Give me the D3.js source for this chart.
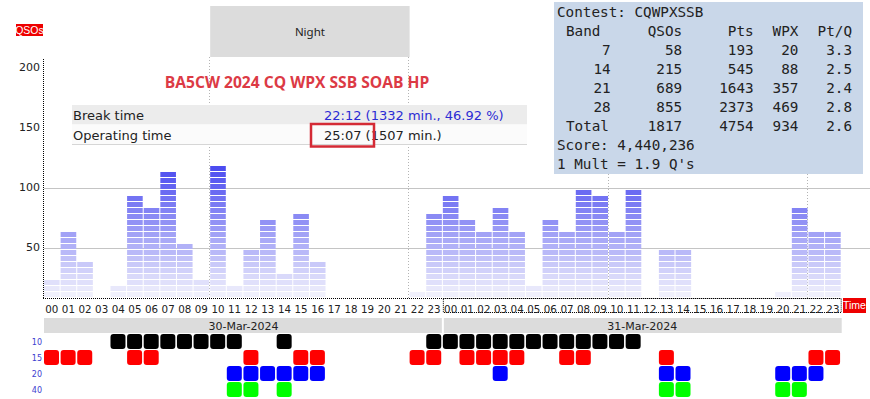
<!DOCTYPE html>
<html>
<head>
<meta charset="utf-8">
<script src="https://cdn.jsdelivr.net/npm/d3@7"></script>
<style>
body{margin:0;background:#fff}
svg{display:block}
</style>
</head>
<body>
<div id="chart"></div>
<script>
const hourLabels = ['00','01','02','03','04','05','06','07','08','09','10','11','12','13','14','15','16','17','18','19','20','21','22','23'];
const days = ['30-Mar-2024','31-Mar-2024'];
// QSOs per hour
const qsoDay1 = [22,62,37,0,17,92,82,112,52,22,117,17,47,72,27,77,37,0,0,0,0,0,12,77];
const qsoDay2 = [92,72,62,82,62,17,72,62,97,92,62,97,0,47,47,0,0,0,0,0,12,82,62,62];
const yTicks = [50,100,150,200];
const gridTicks = [50,100];
const night = [10,22];

// band activity, hours per day
const bandNames = ['10','15','20','40'];
const bandColors = ['#000000','#ff0000','#0000ff','#00ff00'];
const band10 = [[4,5,6,7,8,9,10,11,14,23],[0,1,2,3,4,5,6,7,8,9,10,11]];
const band15 = [[0,1,2,5,6,12,15,16,22,23],[1,2,3,4,7,8,13,22,23]];
const band20 = [[11,12,13,14,15,16],[3,13,14,20,21,22]];
const band40 = [[11,12,14],[13,14,20,21]];

// stats box
const statHeader = ['Band','QSOs','Pts','WPX','Pt/Q'];
const statBands = ['7','14','21','28'];
const statQsos = [58,215,689,855];
const statPts = [193,545,1643,2373];
const statWpx = [20,88,357,469];
const statPtq = ['3.3','2.5','2.4','2.8'];
const statTotal = ['Total',1817,4754,934,'2.6'];

const title = 'BA5CW 2024 CQ WPX SSB SOAB HP';
const breakRows = [['Break time','22:12 (1332 min., 46.92 %)'],['Operating time','25:07 (1507 min.)']];

const width = 870, height = 399;
const yMin = 7.5, step = 5;

const slots = days.flatMap((d,k) => hourLabels.map((h,i) => ({idx:k*24+i, label:h, day:k,
    qso:(k===0 ? qsoDay1 : qsoDay2)[i]})));

const xscale = d3.scaleBand()
.domain(slots.map(d => d.idx))
.range([44,840.7])
.paddingInner(0.06)
.paddingOuter(0);

const step24 = xscale.step();
const xpos = i => 44 + i*step24;

const yscale = d3.scaleLinear()
.domain([yMin,200])
.range([298,67]);

const color = d3.scaleLinear()
.domain([0,22])
.range(['#f0f0fc','#4444ef'])
.interpolate(d3.interpolateRgb);

const svg = d3.select('#chart')
.append('svg')
.attr('width',width)
.attr('height',height)
.style('font-family','DejaVu Sans');

// night
const nights = days.map((d,k) => ({x0:xpos(k*24+night[0]), x1:xpos(k*24+night[1])}));
svg.selectAll('.nightbox')
.data(nights)
.enter()
.append('rect')
.attr('x',d => d.x0)
.attr('y',6)
.attr('width',d => d.x1-d.x0)
.attr('height',51)
.attr('fill','#dcdcdc');

svg.selectAll('.nighttext')
.data(nights)
.enter()
.append('text')
.attr('x',d => (d.x0+d.x1)/2)
.attr('y',36)
.attr('text-anchor','middle')
.attr('font-family','Noto Sans')
.attr('font-size',11.5)
.attr('fill','#222')
.text('Night');

const nightLines = nights.flatMap(d => [d.x0,d.x1]);
svg.selectAll('.nightline')
.data(nightLines)
.enter()
.append('line')
.attr('x1',d => Math.floor(d)-0.5)
.attr('x2',d => Math.floor(d)-0.5)
.attr('y1',57)
.attr('y2',298)
.attr('stroke','#b4b4b4')
.attr('stroke-dasharray','1,2');

// grid
svg.selectAll('.grid')
.data(gridTicks)
.enter()
.append('line')
.attr('x1',44)
.attr('x2',width)
.attr('y1',d => Math.round(yscale(d))+1.5)
.attr('y2',d => Math.round(yscale(d))+1.5)
.attr('stroke','#c4c4c4');

// bars made of segments
const segs = slots.flatMap(d => d3.range(Math.max(0,Math.round((d.qso-yMin)/step))).map(j => ({idx:d.idx, j:j})));
svg.selectAll('.seg')
.data(segs)
.enter()
.append('rect')
.attr('x',d => xscale(d.idx))
.attr('y',d => yscale(yMin+step*(d.j+1)))
.attr('width',xscale.bandwidth())
.attr('height',d => yscale(yMin+step*d.j)-yscale(yMin+step*(d.j+1))-1)
.attr('fill',d => color(d.j));

// axes lines
svg.append('line')
.attr('x1',43.5).attr('x2',43.5)
.attr('y1',59).attr('y2',298)
.attr('stroke','#000')
.attr('stroke-dasharray','1,1');
svg.append('line')
.attr('x1',43).attr('x2',841)
.attr('y1',298.5).attr('y2',298.5)
.attr('stroke','#000')
.attr('stroke-dasharray','1,1');
svg.append('rect')
.attr('x',xpos(24)+0.5)
.attr('y',298.5)
.attr('width',840.7-xpos(24))
.attr('height',14)
.attr('fill','none')
.attr('stroke','#000')
.attr('stroke-dasharray','1,1');

svg.selectAll('.ylab')
.data(yTicks)
.enter()
.append('text')
.attr('x',40)
.attr('y',d => yscale(d)+4)
.attr('text-anchor','end')
.attr('font-size',11)
.attr('fill','#222')
.text(d => d);

svg.selectAll('.xlab')
.data(slots)
.enter()
.append('text')
.attr('x',d => xscale(d.idx)+xscale.bandwidth()/2)
.attr('y',313)
.attr('text-anchor','middle')
.attr('font-size',10.3)
.attr('fill','#222')
.text(d => d.label);

// red tags
const tags = [{t:'QSOs',x:16,y:24,w:27,h:12},{t:'Time',x:843,y:298,w:23,h:15}];
svg.selectAll('.tag')
.data(tags)
.enter()
.append('rect')
.attr('x',d => d.x).attr('y',d => d.y)
.attr('width',d => d.w).attr('height',d => d.h)
.attr('fill','#ee0000');
svg.selectAll('.tagtext')
.data(tags)
.enter()
.append('text')
.attr('x',d => d.x+d.w/2)
.attr('y',d => d.y+d.h/2+3.5)
.attr('text-anchor','middle')
.attr('font-family','Liberation Sans')
.attr('font-size',10.5)
.attr('fill','#fff')
.text(d => d.t);

// date bar
svg.selectAll('.daybar')
.data(days)
.enter()
.append('rect')
.attr('x',(d,k) => xpos(k*24)+(k?1:0))
.attr('y',318)
.attr('width',(d,k) => xpos(k*24+24)-xpos(k*24)-1)
.attr('height',15)
.attr('fill','#dcdcdc');
svg.selectAll('.daytext')
.data(days)
.enter()
.append('text')
.attr('x',(d,k) => (xpos(k*24)+xpos(k*24+24))/2)
.attr('y',330)
.attr('text-anchor','middle')
.attr('font-size',11)
.attr('fill','#222')
.text(d => d);

// band rows
const bands = [band10,band15,band20,band40];
const rowY = d3.scaleBand().domain(bandNames).range([334,398]);
svg.selectAll('.bandlab')
.data(bandNames)
.enter()
.append('text')
.attr('x',42)
.attr('y',d => rowY(d)+11)
.attr('text-anchor','end')
.attr('font-size',8)
.attr('fill','#4040d0')
.text(d => d);

const cells = bands.flatMap((b,r) => b.flatMap((hrs,k) => hrs.map(h => ({band:bandNames[r], idx:k*24+h, c:bandColors[r]}))));
svg.selectAll('.cell')
.data(cells)
.enter()
.append('rect')
.attr('x',d => xscale(d.idx))
.attr('y',d => rowY(d.band))
.attr('width',15)
.attr('height',15)
.attr('rx',3)
.attr('fill',d => d.c);

// title
svg.append('text')
.attr('x',297)
.attr('y',88)
.attr('text-anchor','middle')
.attr('font-family','Open Sans')
.attr('font-weight','bold')
.attr('font-size',15.6)
.attr('fill','#dc3a45')
.text(title);

// break time table
const bt = svg.append('g');
bt.selectAll('rect')
.data(breakRows)
.enter()
.append('rect')
.attr('x',72)
.attr('y',(d,i) => 105+i*19.5)
.attr('width',455)
.attr('height',19.5)
.attr('fill',(d,i) => i ? '#fbfbfb' : '#ececec');
bt.append('line')
.attr('x1',72).attr('x2',527)
.attr('y1',144.5).attr('y2',144.5)
.attr('stroke','#d6d6d6');
bt.selectAll('.lab')
.data(breakRows)
.enter()
.append('text')
.attr('x',73)
.attr('y',(d,i) => 120+i*19.5)
.attr('font-size',13)
.attr('fill','#222')
.text(d => d[0]);
bt.selectAll('.val')
.data(breakRows)
.enter()
.append('text')
.attr('x',324)
.attr('y',(d,i) => 120+i*19.5)
.attr('font-size',13)
.attr('fill',(d,i) => i ? '#222' : '#2b2bd4')
.text(d => d[1]);
bt.append('rect')
.attr('x',311).attr('y',124)
.attr('width',63).attr('height',22.5)
.attr('fill','none')
.attr('stroke','#d42a35')
.attr('stroke-width',2.5);

// stats box
const st = svg.append('g').attr('font-family','DejaVu Sans Mono').attr('font-size',14.3).attr('fill','#222');
st.append('rect')
.attr('x',554).attr('y',2)
.attr('width',309).attr('height',172)
.attr('fill','#c9d7e9');
const cw = 8.94, sx = 557, lh = 19;
const colEnd = [6,14,22,27,33];
st.append('text').attr('x',sx).attr('y',17).text('Contest: CQWPXSSB');
const statRows = [statHeader].concat(statBands.map((b,i) => [b,statQsos[i],statPts[i],statWpx[i],statPtq[i]]), [statTotal]);
statRows.forEach((row,r) => {
    st.selectAll('.r'+r)
    .data(row)
    .enter()
    .append('text')
    .attr('x',(d,c) => (c===0 && isNaN(+d)) ? sx+cw : sx+colEnd[c]*cw)
    .attr('y',17+lh*(r+1))
    .attr('text-anchor',(d,c) => (c===0 && isNaN(+d)) ? 'start' : 'end')
    .text(d => d);
});
st.append('text').attr('x',sx).attr('y',17+lh*7).text('Score: 4,440,236');
st.append('text').attr('x',sx).attr('y',17+lh*8).text("1 Mult = 1.9 Q's");
</script>
</body>
</html>
